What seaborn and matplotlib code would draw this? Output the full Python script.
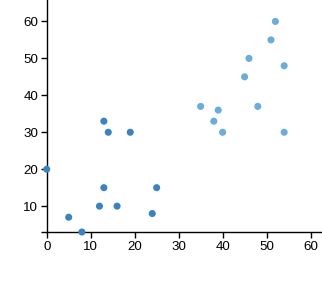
import matplotlib
matplotlib.use("Agg")
import matplotlib.pyplot as plt
import seaborn as sns
import pandas as pd

x_dark = [0, 5, 8, 12, 13, 16, 24, 25, 13, 14, 19]
y_dark = [20, 7, 3, 10, 15, 10, 8, 15, 33, 30, 30]
x_light = [52, 51, 46, 54, 45, 35, 39, 48, 38, 40, 54]
y_light = [60, 55, 50, 48, 45, 37, 36, 37, 33, 30, 30]
x_ticks = [0, 10, 20, 30, 40, 50, 60]
y_ticks = [10, 20, 30, 40, 50, 60]

df = pd.DataFrame({
    "x": x_dark + x_light,
    "y": y_dark + y_light,
    "group": ["a"] * len(x_dark) + ["b"] * len(x_light),
})

sns.set_style("ticks")
plt.rcParams["font.family"] = ["Liberation Sans", "DejaVu Sans"]

fig = plt.figure(figsize=(3.22, 2.81), dpi=100)
ax = fig.add_axes([46.7 / 322, (281 - 232) / 281, 1 - 46.7 / 322, 232 / 281])
sns.scatterplot(data=df, x="x", y="y", hue="group",
                palette={"a": "#3a83bf", "b": "#6aadd6"},
                s=26, linewidth=0, legend=False, ax=ax, clip_on=False, zorder=3)
ax.set_xlim(0, 62.6)
ax.set_ylim(3, 65.8)
ax.set_xticks(x_ticks)
ax.set_yticks(y_ticks)
ax.set_yticks([3], minor=True)
ax.tick_params(axis="y", which="minor", length=4.3, width=1.0, color="black")
ax.set_xlabel("")
ax.set_ylabel("")
for side in ["top", "right"]:
    ax.spines[side].set_visible(False)
for side in ["left", "bottom"]:
    ax.spines[side].set_color("black")
    ax.spines[side].set_linewidth(1.0)
ax.tick_params(axis="both", which="major", length=4.3, width=1.0, color="black",
               labelsize=9.6, pad=2, labelcolor="black")
fig.savefig("out.png", dpi=100)
